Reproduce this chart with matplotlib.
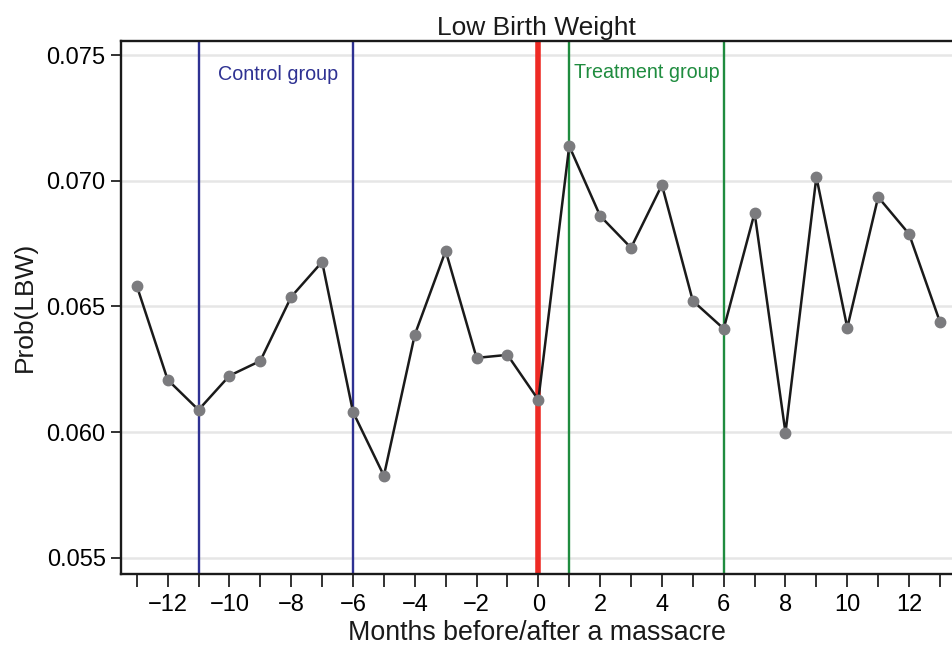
import matplotlib
matplotlib.use("Agg")
import matplotlib.pyplot as plt

plt.rcParams['font.family'] = ['Liberation Sans', 'DejaVu Sans']

months = list(range(-13, 14))
prob_lbw = [0.06582, 0.06208, 0.06088, 0.06224, 0.06283, 0.06538, 0.06677,
            0.06080, 0.05826, 0.06387, 0.06721, 0.06295, 0.06307, 0.06128,
            0.07138, 0.06860, 0.06733, 0.06983, 0.06522, 0.06411, 0.06872,
            0.05997, 0.07015, 0.06415, 0.06935, 0.06788, 0.06438]
yticks = [0.055, 0.060, 0.065, 0.070, 0.075]
ytick_labels = ["0.055", "0.060", "0.065", "0.070", "0.075"]
xticks_major = list(range(-12, 13, 2))
control_bounds = [-11, -6]
treatment_bounds = [1, 6]
event_month = 0

fig = plt.figure(figsize=(9.53, 6.48), dpi=100)
ax = fig.add_axes([121/953, 1 - 573.5/648, 831/953, (573.5 - 41)/648])

for y in yticks:
    ax.axhline(y, color='#e6e6e6', lw=1.8, zorder=0)

navy = '#2e3192'
green = '#1f8c3f'
for xv in control_bounds:
    ax.axvline(xv, color=navy, lw=1.7, zorder=1)
for xv in treatment_bounds:
    ax.axvline(xv, color=green, lw=1.7, zorder=1)
ax.axvline(event_month, color='#ee2a24', lw=4.0, zorder=1)

ax.plot(months, prob_lbw, color='#1a1a1a', lw=1.8, marker='o', markersize=7.5,
        markerfacecolor='#7b7b7e', markeredgecolor='#7b7b7e', zorder=3)

ax.text(sum(control_bounds)/2 + 0.07, 0.07424, "Control group", color=navy, fontsize=14.2,
        ha='center', va='center')
ax.text(sum(treatment_bounds)/2, 0.07430, "Treatment group", color=green, fontsize=14.2,
        ha='center', va='center')

ax.set_xlim(-13.51, 13.39)
ax.set_ylim(0.05437, 0.07556)
ax.set_yticks(yticks)
ax.set_yticklabels(ytick_labels)
ax.set_xticks(xticks_major)
ax.set_xticklabels([str(v).replace('-', '\u2212') for v in xticks_major])
ax.set_xticks(months, minor=True)
ax.tick_params(axis='x', which='both', direction='out', length=9, width=1.3,
               labelsize=17, color='#222222', pad=6)
ax.tick_params(axis='y', direction='out', length=7, width=1.3, labelsize=17,
               color='#222222', pad=4)

for s in ['left', 'bottom', 'top']:
    ax.spines[s].set_linewidth(1.7)
    ax.spines[s].set_color('#1a1a1a')
ax.spines['right'].set_visible(False)

ax.set_title("Low Birth Weight", fontsize=19, color='#1a1a1a', pad=4)
ax.set_xlabel("Months before/after a massacre", fontsize=19.3, color='#1a1a1a', labelpad=3)
ax.set_ylabel("Prob(LBW)", fontsize=19, color='#1a1a1a', labelpad=7)

fig.savefig("out.png", dpi=100)
